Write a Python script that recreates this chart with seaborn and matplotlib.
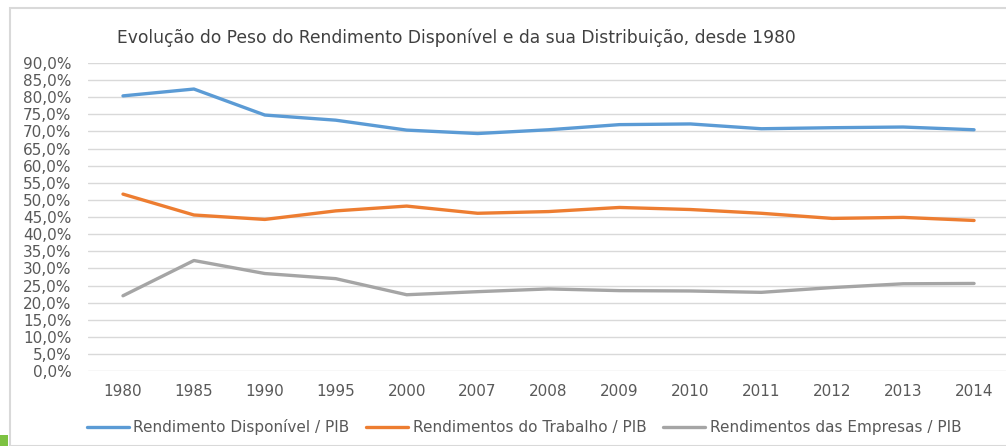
import matplotlib
matplotlib.use("Agg")
import matplotlib.pyplot as plt
import matplotlib.ticker as mticker
from matplotlib.patches import Rectangle
import seaborn as sns
import pandas as pd

years = ["1980", "1985", "1990", "1995", "2000", "2007", "2008", "2009",
         "2010", "2011", "2012", "2013", "2014"]
rend_disponivel = [80.4, 82.4, 74.8, 73.3, 70.4, 69.4, 70.5, 72.0, 72.2, 70.8, 71.1, 71.3, 70.5]
rend_trabalho = [51.7, 45.6, 44.3, 46.8, 48.2, 46.1, 46.6, 47.8, 47.2, 46.1, 44.6, 44.9, 44.0]
rend_empresas = [22.0, 32.3, 28.5, 27.0, 22.3, 23.2, 24.0, 23.5, 23.4, 23.0, 24.4, 25.5, 25.6]
series_names = ["Rendimento Disponível / PIB", "Rendimentos do Trabalho / PIB",
                "Rendimentos das Empresas / PIB"]
title = "Evolução do Peso do Rendimento Disponível e da sua Distribuição, desde 1980"

rows = []
for name, vals in zip(series_names, [rend_disponivel, rend_trabalho, rend_empresas]):
    for y, v in zip(years, vals):
        rows.append({"Ano": y, "Valor": v / 100.0, "Série": name})
df = pd.DataFrame(rows)

sns.set_theme(style="white")
plt.rcParams["font.family"] = ["DejaVu Sans"]
txt = "#595959"

fig = plt.figure(figsize=(10.06, 4.46), dpi=100)
ax = fig.add_axes([0.087, 0.168, 0.9165, 0.6907])

palette = {series_names[0]: "#5B9BD5", series_names[1]: "#ED7D31", series_names[2]: "#A5A5A5"}
sns.lineplot(data=df, x="Ano", y="Valor", hue="Série", palette=palette, sort=False,
             linewidth=2.4, ax=ax)

ax.set_xlim(-0.5, len(years) - 0.5)
ax.set_ylim(0, 0.9)
ax.yaxis.set_major_locator(mticker.MultipleLocator(0.05))
ax.yaxis.set_major_formatter(mticker.FuncFormatter(lambda v, p: f"{v*100:.1f}%".replace(".", ",")))
ax.grid(axis="y", color="#D9D9D9", linewidth=1.0)
ax.set_axisbelow(True)
for s in ax.spines.values():
    s.set_visible(False)
ax.tick_params(axis="both", length=0, labelsize=11, colors=txt)
ax.tick_params(axis="x", pad=9)
ax.tick_params(axis="y", pad=11.5)
ax.set_xlabel("")
ax.set_ylabel("")

handles, labels = ax.get_legend_handles_labels()
ax.legend_.remove()
fig.legend(handles, labels, loc="center", bbox_to_anchor=(0.521, 0.042), ncol=3,
           frameon=False, fontsize=11, handlelength=2.75, handletextpad=0.3,
           columnspacing=1.1, labelcolor=txt)

fig.text(0.116, 0.915, title, fontsize=12.3, color="#404040", ha="left", va="center")

# outer frame and decoration
fig.patches.append(Rectangle((10 / 1006, 0), 1.0, 1 - 8 / 446, transform=fig.transFigure,
                             fill=False, edgecolor="#D9D9D9", linewidth=1.5))
fig.patches.append(Rectangle((0, 0), 8 / 1006, 11 / 446, transform=fig.transFigure,
                             facecolor="#7DC242", edgecolor="none"))

fig.savefig("out.png", dpi=100)
